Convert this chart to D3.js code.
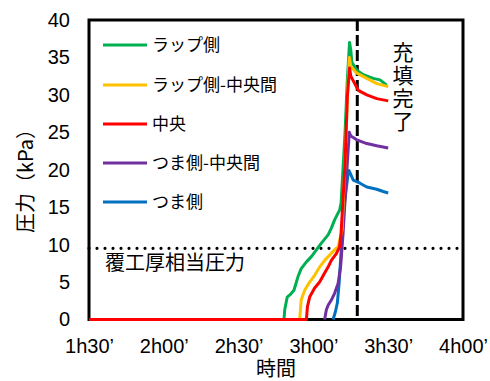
<!DOCTYPE html>
<html><head><meta charset="utf-8">
<script src="https://cdn.jsdelivr.net/npm/d3@7"></script>
<style>
body{margin:0;background:#fff;}
svg{display:block;}
text{fill:#000;}
</style></head>
<body>
<svg id="chart" width="490" height="381"></svg>
<script>
// time in minutes, pressure in kPa
const seriesNames = ["ラップ側","ラップ側-中央間","中央","つま側-中央間","つま側"];
const seriesColors = ["#00B050","#FFC000","#FF0000","#7030A0","#0070C0"];
const greenData = [[90,0],[168.2,0],[168.5,1.3],[169.5,3.0],[170.9,3.4],[172.2,3.9],[173.8,5.7],[175.1,6.8],[177.2,7.7],[179.2,8.4],[181.2,9.3],[183.2,10.2],[185.9,11.3],[187.2,12.2],[188.5,13.3],[190.5,14.6],[191.1,15.5],[192.7,25],[193.6,32],[194.5,37.0],[195.0,36.0],[195.4,34.4],[197.4,33.3],[200.0,32.7],[204.0,32.2],[206.7,32.0],[209.4,31.3]];
const yellowData = [[90,0],[174.5,0],[175.1,2.6],[176.5,3.9],[178.5,5.0],[180.5,5.9],[182.5,7.0],[184.5,7.9],[186.5,8.6],[188.5,9.3],[189.9,9.7],[191.5,12],[192.8,22],[193.8,31],[194.4,35.0],[195.0,33.8],[197.4,32.9],[201.4,32.2],[205.4,31.5],[210.0,31.1]];
const redData = [[90,0],[177.2,0],[177.6,1.7],[178.5,3.0],[180.5,4.2],[182.5,5.0],[184.5,6.2],[185.9,7.0],[187.2,7.9],[189.2,8.8],[190.5,9.7],[191.1,11.5],[192.7,20.9],[193.6,29.7],[194.5,33.6],[195.0,32.5],[198.0,30.6],[201.4,30.0],[205.4,29.5],[210.0,29.2]];
const purpleData = [[184.5,0],[185.2,1.3],[185.9,1.9],[187.2,2.6],[188.5,3.5],[189.9,4.8],[190.9,7.0],[191.9,11.5],[193.6,20.9],[194.4,25.0],[195.0,24.5],[197.4,24.0],[201.4,23.5],[205.4,23.2],[210.0,22.9]];
const blueData = [[187.9,0],[188.8,1.0],[189.6,2.2],[190.3,4.8],[190.9,7.9],[191.6,11.5],[192.3,15.1],[194.0,19.7],[194.3,19.9],[196.0,18.6],[198.7,18.2],[201.4,17.7],[205.4,17.4],[208.0,17.1],[210.0,16.9]];
const seriesData = [greenData, yellowData, redData, purpleData, blueData];
const drawOrder = [4,3,0,1,2];
const xTicks = [90,120,150,180,210,240];
const xTickLabels = ["1h30’","2h00’","2h30’","3h00’","3h30’","4h00’"];
const yTicks = [0,5,10,15,20,25,30,35,40];
const fillComplete = 197.6;   // 充填完了
const coverPressure = 9.5;    // 覆工厚相当圧力

const svg = d3.select("#chart");
const L = 89, R = 463, T = 20, B = 319.5;
const x = d3.scaleLinear().domain([90,240]).range([L,R]);
const y = d3.scaleLinear().domain([0,40]).range([B,T]);
const numFont = "'Liberation Sans', Arial, sans-serif";
const jpFont = "'Noto Sans CJK JP', sans-serif";

// axes labels
const ya = svg.append("g").attr("transform",`translate(${L},0)`)
  .call(d3.axisLeft(y).tickValues(yTicks).tickSize(0).tickPadding(19));
ya.select(".domain").remove();
ya.selectAll("text").attr("font-family",numFont).attr("font-size",20).attr("fill","#000");

const xa = svg.append("g").attr("transform",`translate(0,${B})`)
  .call(d3.axisBottom(x).tickValues(xTicks).tickFormat((d,i)=>xTickLabels[i]).tickSize(0).tickPadding(19));
xa.select(".domain").remove();
xa.selectAll("text").attr("font-family",numFont).attr("font-size",20).attr("fill","#000");

// reference lines
svg.append("line").attr("x1",x(90)).attr("x2",x(240)).attr("y1",y(coverPressure)).attr("y2",y(coverPressure))
  .attr("stroke","#000").attr("stroke-width",3.2).attr("stroke-dasharray","0,8").attr("stroke-linecap","round");

// frame
svg.append("rect").attr("x",L).attr("y",T).attr("width",R-L).attr("height",B-T)
  .attr("fill","none").attr("stroke","#000").attr("stroke-width",3);

svg.append("line").attr("x1",x(fillComplete)).attr("x2",x(fillComplete)).attr("y1",y(40)).attr("y2",y(0))
  .attr("stroke","#000").attr("stroke-width",3).attr("stroke-dasharray","11,4");

// series
const line = d3.line().x(d=>x(d[0])).y(d=>y(d[1]));
drawOrder.forEach(i=>{
  svg.append("path").datum(seriesData[i]).attr("d",line)
    .attr("fill","none").attr("stroke",seriesColors[i]).attr("stroke-width",3).attr("stroke-linejoin","round");
});

// legend
const legY = [45,85,124,163,202];
seriesNames.forEach((n,i)=>{
  svg.append("line").attr("x1",103).attr("x2",147).attr("y1",legY[i]).attr("y2",legY[i])
    .attr("stroke",seriesColors[i]).attr("stroke-width",3);
  svg.append("text").attr("x",152).attr("y",legY[i]).attr("dy","0.35em")
    .attr("font-family",jpFont).attr("font-size",17).text(n);
});

// annotations
svg.append("text").attr("x",105).attr("y",263).attr("dy","0.35em")
  .attr("font-family",jpFont).attr("font-size",20).text("覆工厚相当圧力");
svg.append("text").attr("x",403).attr("y",42)
  .attr("writing-mode","vertical-rl").style("writing-mode","vertical-rl")
  .attr("letter-spacing",2)
  .attr("font-family",jpFont).attr("font-size",21).text("充填完了");

// axis titles
svg.append("text").attr("x",276).attr("y",369).attr("dy","0.35em").attr("text-anchor","middle")
  .attr("font-family",jpFont).attr("font-size",20).text("時間");
svg.append("text").attr("transform","translate(26,176) rotate(-90)").attr("dy","0.35em").attr("text-anchor","middle")
  .attr("font-family",jpFont).attr("font-size",20).text("圧力（kPa）");
</script>
</body></html>
